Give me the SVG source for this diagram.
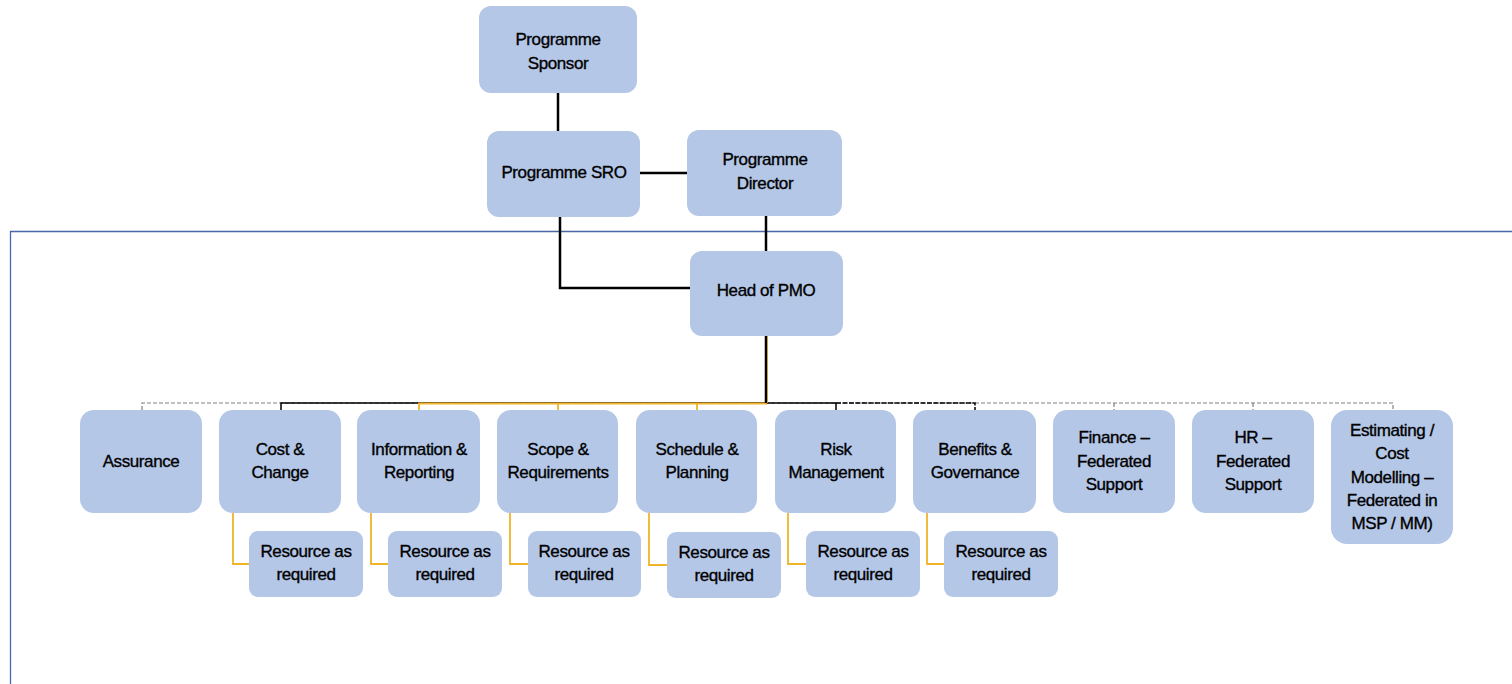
<svg xmlns="http://www.w3.org/2000/svg" width="1512" height="684" viewBox="0 0 1512 684">
<style>
.box{fill:#b4c7e7;}
.t{font-family:"Liberation Sans",Arial,sans-serif;font-size:17px;fill:#000;stroke:#000;stroke-width:0.35;text-anchor:middle;letter-spacing:-0.4px;}
.blk{stroke:#000;stroke-width:2.5;fill:none;}
.thin{stroke:#000;stroke-width:1.5;fill:none;}
.gold{stroke:#f0b428;stroke-width:1.8;fill:none;}
.dash{stroke:#808080;stroke-width:1.2;stroke-dasharray:4 2;fill:none;}
</style>
<rect width="1512" height="684" fill="#fff"/>
<path d="M10.5 684 V231.5 H1512" stroke="#4a68a8" stroke-width="1.3" fill="none"/>
<g id="connectors">
<path class="blk" d="M558 93 V131"/>
<path class="blk" d="M640 173 H687"/>
<path class="blk" d="M560 217 V288 H690"/>
<path class="blk" d="M766 216 V251"/>
<path class="dash" d="M142 410 V403 H1393 V410"/>
<path class="dash" d="M1114 403 V410 M1253 403 V410"/>
<path class="thin" d="M281 410 V403 H836 V410"/>
<path class="thin" d="M836 403 H975 V410" stroke-dasharray="5 1.5"/>
<path class="gold" d="M419 410 V403.5 H767 M558 403.5 V410 M697 403.5 V410"/>
<path class="blk" d="M766 336 V403"/>
<path d="M767.5 336 V403" stroke="#c9a227" stroke-width="1"/>
<path class="gold" d="M233 513 V564 H249"/>
<path class="gold" d="M371 513 V564 H388"/>
<path class="gold" d="M510 513 V564 H528"/>
<path class="gold" d="M649 513 V565 H667"/>
<path class="gold" d="M788 513 V564 H806"/>
<path class="gold" d="M927 513 V564 H944"/>
</g>
<g id="sponsor"><rect class="box" x="479" y="6" width="158" height="87" rx="12"/><text class="t" x="558" y="45">Programme</text><text class="t" x="558" y="69">Sponsor</text></g>
<g id="sro"><rect class="box" x="487" y="131" width="153" height="86" rx="12"/><text class="t" x="564" y="178">Programme SRO</text></g>
<g id="director"><rect class="box" x="687" y="130" width="155" height="86" rx="12"/><text class="t" x="765" y="165">Programme</text><text class="t" x="765" y="189">Director</text></g>
<g id="head-pmo"><rect class="box" x="690" y="251" width="153" height="85" rx="12"/><text class="t" x="766" y="296">Head of PMO</text></g>
<g id="assurance"><rect class="box" x="80" y="410" width="122" height="103" rx="14"/><text class="t" x="141" y="467">Assurance</text></g>
<g id="cost-change"><rect class="box" x="219" y="410" width="122" height="103" rx="14"/><text class="t" x="280" y="455">Cost &amp;</text><text class="t" x="280" y="478">Change</text></g>
<g id="info-reporting"><rect class="box" x="357" y="410" width="123" height="103" rx="14"/><text class="t" x="419" y="455">Information &amp;</text><text class="t" x="419" y="478">Reporting</text></g>
<g id="scope-req"><rect class="box" x="497" y="410" width="121" height="103" rx="14"/><text class="t" x="558" y="455">Scope &amp;</text><text class="t" x="558" y="478">Requirements</text></g>
<g id="schedule-planning"><rect class="box" x="636" y="410" width="121" height="103" rx="14"/><text class="t" x="697" y="455">Schedule &amp;</text><text class="t" x="697" y="478">Planning</text></g>
<g id="risk"><rect class="box" x="775" y="410" width="121" height="103" rx="14"/><text class="t" x="836" y="455">Risk</text><text class="t" x="836" y="478">Management</text></g>
<g id="benefits"><rect class="box" x="913" y="410" width="123" height="103" rx="14"/><text class="t" x="975" y="455">Benefits &amp;</text><text class="t" x="975" y="478">Governance</text></g>
<g id="finance"><rect class="box" x="1053" y="410" width="122" height="103" rx="14"/><text class="t" x="1114" y="443">Finance –</text><text class="t" x="1114" y="467">Federated</text><text class="t" x="1114" y="490">Support</text></g>
<g id="hr"><rect class="box" x="1192" y="410" width="122" height="103" rx="14"/><text class="t" x="1253" y="443">HR –</text><text class="t" x="1253" y="467">Federated</text><text class="t" x="1253" y="490">Support</text></g>
<g id="estimating"><rect class="box" x="1331" y="410" width="122" height="134" rx="16"/><text class="t" x="1392" y="436">Estimating /</text><text class="t" x="1392" y="459">Cost</text><text class="t" x="1392" y="483">Modelling –</text><text class="t" x="1392" y="506">Federated in</text><text class="t" x="1392" y="529">MSP / MM)</text></g>
<g id="res-cost"><rect class="box" x="249" y="531" width="114" height="66" rx="9"/><text class="t" x="306" y="557">Resource as</text><text class="t" x="306" y="580">required</text></g>
<g id="res-info"><rect class="box" x="388" y="531" width="114" height="66" rx="9"/><text class="t" x="445" y="557">Resource as</text><text class="t" x="445" y="580">required</text></g>
<g id="res-scope"><rect class="box" x="528" y="531" width="113" height="66" rx="9"/><text class="t" x="584" y="557">Resource as</text><text class="t" x="584" y="580">required</text></g>
<g id="res-schedule"><rect class="box" x="667" y="532" width="114" height="66" rx="9"/><text class="t" x="724" y="558">Resource as</text><text class="t" x="724" y="581">required</text></g>
<g id="res-risk"><rect class="box" x="806" y="531" width="114" height="66" rx="9"/><text class="t" x="863" y="557">Resource as</text><text class="t" x="863" y="580">required</text></g>
<g id="res-benefits"><rect class="box" x="944" y="531" width="114" height="66" rx="9"/><text class="t" x="1001" y="557">Resource as</text><text class="t" x="1001" y="580">required</text></g>
</svg>
